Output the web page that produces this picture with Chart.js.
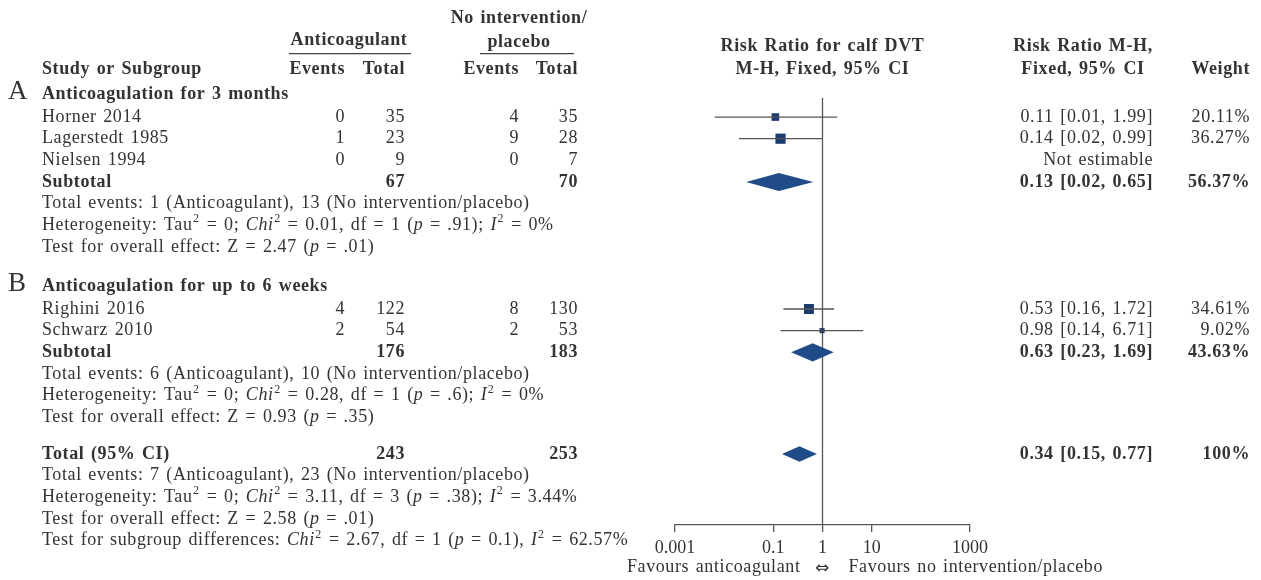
<!DOCTYPE html>
<html>
<head>
<meta charset="utf-8">
<script src="https://cdn.jsdelivr.net/npm/chart.js@4.4.1/dist/chart.umd.min.js"></script>
<style>
  html, body { margin: 0; background: #fff; }
  #wrap { width: 1261px; height: 580px; position: relative; }
</style>
</head>
<body>
<div id="wrap"><canvas id="forest-chart"></canvas></div>
<script>
// study level data
const studies = ['Horner 2014', 'Lagerstedt 1985', 'Nielsen 1994', 'Righini 2016', 'Schwarz 2010'];
const antiEvents = [0, 1, 0, 4, 2];
const antiTotal = [35, 23, 9, 122, 54];
const placeboEvents = [4, 9, 0, 8, 2];
const placeboTotal = [35, 28, 7, 130, 53];
const riskRatio = [0.11, 0.14, null, 0.53, 0.98];
const ciLow = [0.0064, 0.02, null, 0.16, 0.14];
const ciHigh = [1.99, 0.99, null, 1.72, 6.71];
const effectText = ['0.11 [0.01, 1.99]', '0.14 [0.02, 0.99]', 'Not estimable', '0.53 [0.16, 1.72]', '0.98 [0.14, 6.71]'];
const studyWeight = [20.11, 36.27, 0, 34.61, 9.02];
const weightText = ['20.11%', '36.27%', '', '34.61%', '9.02%'];

// pooled estimates (subgroup A, subgroup B, overall)
const summaryLabels = ['Subtotal', 'Subtotal', 'Total (95% CI)'];
const summaryAntiTotal = [67, 176, 243];
const summaryPlaceboTotal = [70, 183, 253];
const summaryRatio = [0.13, 0.63, 0.34];
const summaryLow = [0.028, 0.23, 0.15];
const summaryHigh = [0.65, 1.69, 0.77];
const summaryEffectText = ['0.13 [0.02, 0.65]', '0.63 [0.23, 1.69]', '0.34 [0.15, 0.77]'];
const summaryWeightText = ['56.37%', '43.63%', '100%'];

const groupLetters = ['A', 'B'];
const groupTitles = ['Anticoagulation for 3 months', 'Anticoagulation for up to 6 weeks'];

// [text, style] where style is 'i' for italic or 's' for superscript
const groupStats = [
  [
    [['Total events: 1 (Anticoagulant), 13 (No intervention/placebo)']],
    [['Heterogeneity: Tau'], ['2', 's'], [' = 0; '], ['Chi', 'i'], ['2', 's'], [' = 0.01, df = 1 ('], ['p', 'i'], [' = .91); '], ['I', 'i'], ['2', 's'], [' = 0%']],
    [['Test for overall effect: Z = 2.47 ('], ['p', 'i'], [' = .01)']],
  ],
  [
    [['Total events: 6 (Anticoagulant), 10 (No intervention/placebo)']],
    [['Heterogeneity: Tau'], ['2', 's'], [' = 0; '], ['Chi', 'i'], ['2', 's'], [' = 0.28, df = 1 ('], ['p', 'i'], [' = .6); '], ['I', 'i'], ['2', 's'], [' = 0%']],
    [['Test for overall effect: Z = 0.93 ('], ['p', 'i'], [' = .35)']],
  ],
  [
    [['Total events: 7 (Anticoagulant), 23 (No intervention/placebo)']],
    [['Heterogeneity: Tau'], ['2', 's'], [' = 0; '], ['Chi', 'i'], ['2', 's'], [' = 3.11, df = 3 ('], ['p', 'i'], [' = .38); '], ['I', 'i'], ['2', 's'], [' = 3.44%']],
    [['Test for overall effect: Z = 2.58 ('], ['p', 'i'], [' = .01)']],
    [['Test for subgroup differences: '], ['Chi', 'i'], ['2', 's'], [' = 2.67, df = 1 ('], ['p', 'i'], [' = 0.1), '], ['I', 'i'], ['2', 's'], [' = 62.57%']],
  ],
];

const tickValues = [0.001, 0.1, 1, 10, 1000];

// row layout (y scale units, one unit per text line)
const studyRows = [0, 1, 2, 8.87, 9.87];
const summaryRows = [3, 10.87, 15.57];
const groupTitleRows = [-1.05, 7.8];

const FONT = '"Liberation Serif", "DejaVu Serif", serif';
const TEXT = '#333333';

function setFont(ctx, size, bold, italic) {
  ctx.font = `${italic ? 'italic ' : ''}${bold ? 'bold ' : ''}${size}px ${FONT}`;
}

function drawText(ctx, str, x, y, opts = {}) {
  setFont(ctx, opts.size || 18, opts.bold, opts.italic);
  ctx.textAlign = opts.align || 'left';
  ctx.fillText(str, x, y);
}

function drawRich(ctx, parts, x, y, size = 18) {
  ctx.textAlign = 'left';
  let cx = x;
  parts.forEach(([str, style]) => {
    if (style === 's') {
      setFont(ctx, 12, false, false);
      ctx.fillText(str, cx + 0.5, y - 6);
      cx += ctx.measureText(str).width + 1;
      return;
    }
    setFont(ctx, size, false, style === 'i');
    ctx.fillText(str, cx, y);
    cx += ctx.measureText(str).width;
  });
}

const tablePlugin = {
  id: 'forestTable',
  beforeDatasetsDraw(chart) {
    const { ctx, chartArea, scales } = chart;
    const x1 = scales.x.getPixelForValue(1);
    ctx.save();
    ctx.strokeStyle = '#555';
    ctx.lineWidth = 1.3;
    ctx.beginPath();
    ctx.moveTo(x1, chartArea.top);
    ctx.lineTo(x1, chartArea.bottom);
    ctx.stroke();
    ctx.restore();
  },
  afterDatasetsDraw(chart) {
    const { ctx, scales } = chart;
    ctx.save();
    ctx.fillStyle = '#1f4c88';
    summaryRatio.forEach((est, i) => {
      const row = summaryRows[i];
      const h = i === 2 ? 0.36 : 0.42;
      ctx.beginPath();
      ctx.moveTo(scales.x.getPixelForValue(summaryLow[i]), scales.y.getPixelForValue(row));
      ctx.lineTo(scales.x.getPixelForValue(est), scales.y.getPixelForValue(row - h));
      ctx.lineTo(scales.x.getPixelForValue(summaryHigh[i]), scales.y.getPixelForValue(row));
      ctx.lineTo(scales.x.getPixelForValue(est), scales.y.getPixelForValue(row + h));
      ctx.closePath();
      ctx.fill();
    });
    ctx.restore();
  },
  afterDraw(chart) {
    const { ctx, scales } = chart;
    const y = (row) => scales.y.getPixelForValue(row);
    const x1 = scales.x.getPixelForValue(1);
    ctx.save();
    ctx.fillStyle = TEXT;
    ctx.textBaseline = 'middle';
    try {
      ctx.letterSpacing = '0.6px';
      ctx.wordSpacing = '1.5px';
    } catch (e) {}

    // column headers
    drawText(ctx, 'Anticoagulant', 349, y(-3.56), { bold: true, align: 'center' });
    drawText(ctx, 'No intervention/', 519, y(-4.57), { bold: true, align: 'center' });
    drawText(ctx, 'placebo', 519, y(-3.46), { bold: true, align: 'center' });
    ctx.strokeStyle = '#444';
    ctx.lineWidth = 1.2;
    ctx.beginPath();
    ctx.moveTo(289, y(-2.93)); ctx.lineTo(411, y(-2.93));
    ctx.moveTo(480, y(-2.93)); ctx.lineTo(574, y(-2.93));
    ctx.stroke();
    drawText(ctx, 'Study or Subgroup', 42, y(-2.2), { bold: true });
    drawText(ctx, 'Events', 345, y(-2.2), { bold: true, align: 'right' });
    drawText(ctx, 'Total', 405, y(-2.2), { bold: true, align: 'right' });
    drawText(ctx, 'Events', 519, y(-2.2), { bold: true, align: 'right' });
    drawText(ctx, 'Total', 578, y(-2.2), { bold: true, align: 'right' });
    drawText(ctx, 'Risk Ratio for calf DVT', x1, y(-3.28), { bold: true, align: 'center' });
    drawText(ctx, 'M-H, Fixed, 95% CI', x1, y(-2.2), { bold: true, align: 'center' });
    drawText(ctx, 'Risk Ratio M-H,', 1083, y(-3.28), { bold: true, align: 'center' });
    drawText(ctx, 'Fixed, 95% CI', 1083, y(-2.2), { bold: true, align: 'center' });
    drawText(ctx, 'Weight', 1250, y(-2.2), { bold: true, align: 'right' });

    // group headings
    groupTitles.forEach((title, g) => {
      const r = groupTitleRows[g];
      drawText(ctx, groupLetters[g], 8, y(r - 0.1), { size: 27 });
      drawText(ctx, title, 42, y(r), { bold: true });
    });

    // study rows
    studies.forEach((name, i) => {
      const r = studyRows[i];
      drawText(ctx, name, 42, y(r));
      drawText(ctx, String(antiEvents[i]), 345, y(r), { align: 'right' });
      drawText(ctx, String(antiTotal[i]), 405, y(r), { align: 'right' });
      drawText(ctx, String(placeboEvents[i]), 519, y(r), { align: 'right' });
      drawText(ctx, String(placeboTotal[i]), 578, y(r), { align: 'right' });
      drawText(ctx, effectText[i], 1153, y(r), { align: 'right' });
      drawText(ctx, weightText[i], 1250, y(r), { align: 'right' });
    });

    // subtotals / total with their statistics
    summaryLabels.forEach((label, i) => {
      const r = summaryRows[i];
      drawText(ctx, label, 42, y(r), { bold: true });
      drawText(ctx, String(summaryAntiTotal[i]), 405, y(r), { bold: true, align: 'right' });
      drawText(ctx, String(summaryPlaceboTotal[i]), 578, y(r), { bold: true, align: 'right' });
      drawText(ctx, summaryEffectText[i], 1153, y(r), { bold: true, align: 'right' });
      drawText(ctx, summaryWeightText[i], 1250, y(r), { bold: true, align: 'right' });
      groupStats[i].forEach((parts, k) => drawRich(ctx, parts, 42, y(r + 1 + k)));
    });

    // favours labels
    const fy = y(20.82);
    drawText(ctx, 'Favours anticoagulant', x1 - 22, fy, { align: 'right' });
    ctx.font = '17px "DejaVu Sans", sans-serif';
    ctx.textAlign = 'center';
    ctx.fillText('⇔', x1, fy + 1);
    drawText(ctx, 'Favours no intervention/placebo', x1 + 26, fy);
    ctx.restore();
  },
};

const ciDatasets = studies
  .map((name, i) => ({ name, i }))
  .filter(({ i }) => riskRatio[i] !== null)
  .map(({ name, i }) => ({
    label: name,
    data: [{ x: ciLow[i], y: studyRows[i] }, { x: ciHigh[i], y: studyRows[i] }],
    showLine: true,
    borderColor: '#555',
    borderWidth: 1.3,
    pointRadius: 0,
  }));

const shown = studies.map((_, i) => i).filter((i) => riskRatio[i] !== null);

const pointDataset = {
  label: 'Risk ratio',
  data: shown.map((i) => ({ x: riskRatio[i], y: studyRows[i] })),
  pointStyle: 'rect',
  pointRadius: shown.map((i) => 1.2 * Math.sqrt(studyWeight[i])),
  backgroundColor: '#1b3c6e',
  borderColor: '#1b3c6e',
  borderWidth: 0,
};

new Chart(document.getElementById('forest-chart'), {
  type: 'scatter',
  data: { datasets: [...ciDatasets, pointDataset] },
  options: {
    responsive: true,
    maintainAspectRatio: false,
    animation: false,
    layout: { padding: { left: 675, right: 291, top: 98, bottom: 0 } },
    plugins: { legend: { display: false }, tooltip: { enabled: false } },
    scales: {
      x: {
        type: 'logarithmic',
        min: 0.001,
        max: 1000,
        afterBuildTicks(scale) {
          scale.ticks = tickValues.map((value) => ({ value }));
        },
        afterFit(scale) {
          scale.height = 55;
        },
        border: { display: true, color: '#555', width: 1.3 },
        grid: { drawOnChartArea: false, drawTicks: true, tickLength: 7, color: '#555', lineWidth: 1.3 },
        ticks: {
          autoSkip: false,
          maxRotation: 0,
          padding: 5,
          color: TEXT,
          font: { family: FONT, size: 18 },
          callback(value) {
            return String(value);
          },
        },
      },
      y: {
        type: 'linear',
        display: false,
        reverse: true,
        min: -0.88,
        max: 18.85,
      },
    },
  },
  plugins: [tablePlugin],
});
</script>
</body>
</html>
